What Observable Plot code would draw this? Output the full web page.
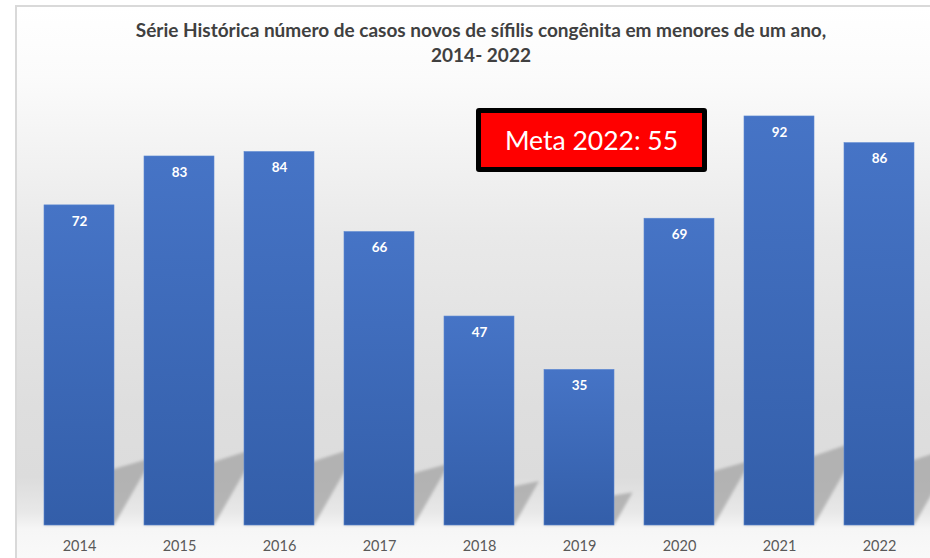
<!DOCTYPE html>
<html>
<head>
<meta charset="utf-8">
<script src="https://cdn.jsdelivr.net/npm/d3@7"></script>
<script src="https://cdn.jsdelivr.net/npm/@observablehq/plot@0.6"></script>
<style>
  html, body { margin: 0; padding: 0; background: #ffffff; }
  #wrap { position: relative; width: 930px; height: 558px; overflow: hidden; font-family: Lato, "Open Sans", sans-serif; }
  #frame { position: absolute; left: 15px; top: 5px; width: 940px; height: 570px;
    border-left: 2px solid #d9d9d9; border-top: 2px solid #d9d9d9;
    background: linear-gradient(to bottom, #ffffff 0px, #fbfbfb 70px, #e9e9e9 230px, #dedede 400px, #dcdcdc 470px, #e8e8e8 505px, #f6f6f6 522px, #fafafa 560px); }
  #title { position: relative; z-index: 1; height: 70px; box-sizing: border-box; padding-top: 17px;
    text-align: center; font-weight: bold; font-size: 19px; line-height: 25px; color: #404040; padding-left: 32px; }
  #chart { position: relative; z-index: 1; }
  #meta { position: absolute; z-index: 2; left: 476px; top: 108px; width: 231px; height: 64px; box-sizing: border-box;
    border: 5px solid #000; border-radius: 3px; background: #ff0000; color: #fff;
    font-size: 26.5px; display: flex; align-items: center; justify-content: center; }
</style>
</head>
<body>
<div id="wrap">
  <div id="frame"></div>
  <div id="title"></div>
  <div id="chart"></div>
  <div id="meta"></div>
</div>
<script>
const years = ["2014", "2015", "2016", "2017", "2018", "2019", "2020", "2021", "2022"];
const cases = [72, 83, 84, 66, 47, 35, 69, 92, 86];
const titleLines = [
  "Série Histórica número de casos novos de sífilis congênita em menores de um ano,",
  "2014- 2022"
];
const metaLabel = "Meta 2022: 55";

const data = years.map((year, i) => ({year, cases: cases[i]}));

document.getElementById("title").innerHTML = titleLines.map(t => `<div>${t}</div>`).join("");
document.getElementById("meta").textContent = metaLabel;

const defsMark = () => {
  const defs = d3.create("svg:defs");
  const g = defs.append("linearGradient").attr("id", "barGrad").attr("x1", 0).attr("y1", 0).attr("x2", 0).attr("y2", 1);
  g.append("stop").attr("offset", "0%").attr("stop-color", "#4674c6");
  g.append("stop").attr("offset", "100%").attr("stop-color", "#335ea9");
  const f = defs.append("filter").attr("id", "shadowBlur").attr("x", "-20%").attr("y", "-20%").attr("width", "140%").attr("height", "140%");
  f.append("feGaussianBlur").attr("stdDeviation", 1.4);
  return defs.node();
};

const shadowMark = (index, scales) => {
  const x = scales.x, y = scales.y;
  const bw = typeof x.bandwidth === "function" ? x.bandwidth() : x.bandwidth;
  const g = d3.create("svg:g").attr("filter", "url(#shadowBlur)");
  const base = y(0);
  for (const d of data) {
    const x0 = x(d.year), x1 = x0 + bw, h = base - y(d.cases);
    const pts = [[x0, base], [x1, base], [x1 + 0.12 * h, base - 0.21 * h], [x0 + 0.03 * h, base - 0.12 * h]];
    g.append("path").attr("d", "M" + pts.map(p => p.join(",")).join("L") + "Z")
      .attr("fill", "#9f9f9f").attr("fill-opacity", 0.7);
  }
  return g.node();
};

const chart = Plot.plot({
  width: 930,
  height: 488,
  marginTop: 10.4,
  marginBottom: 33,
  marginLeft: 34,
  marginRight: 6,
  style: {background: "transparent", fontFamily: "Lato, 'Open Sans', sans-serif", fontSize: "14.5px", color: "#595959"},
  x: {domain: years, paddingInner: 0.3, paddingOuter: 0.1, align: 0.5, label: null, tickSize: 0, tickPadding: 15},
  y: {domain: [0, 100], axis: null},
  marks: [
    defsMark,
    shadowMark,
    Plot.barY(data, {x: "year", y: "cases", fill: "url(#barGrad)", stroke: "#5b88d2", strokeWidth: 0.6}),
    Plot.text(data, {x: "year", y: "cases", text: d => String(d.cases), dy: 16, fill: "#ffffff", fontWeight: "bold", fontSize: 13.5})
  ]
});
document.getElementById("chart").appendChild(chart);
</script>
</body>
</html>
